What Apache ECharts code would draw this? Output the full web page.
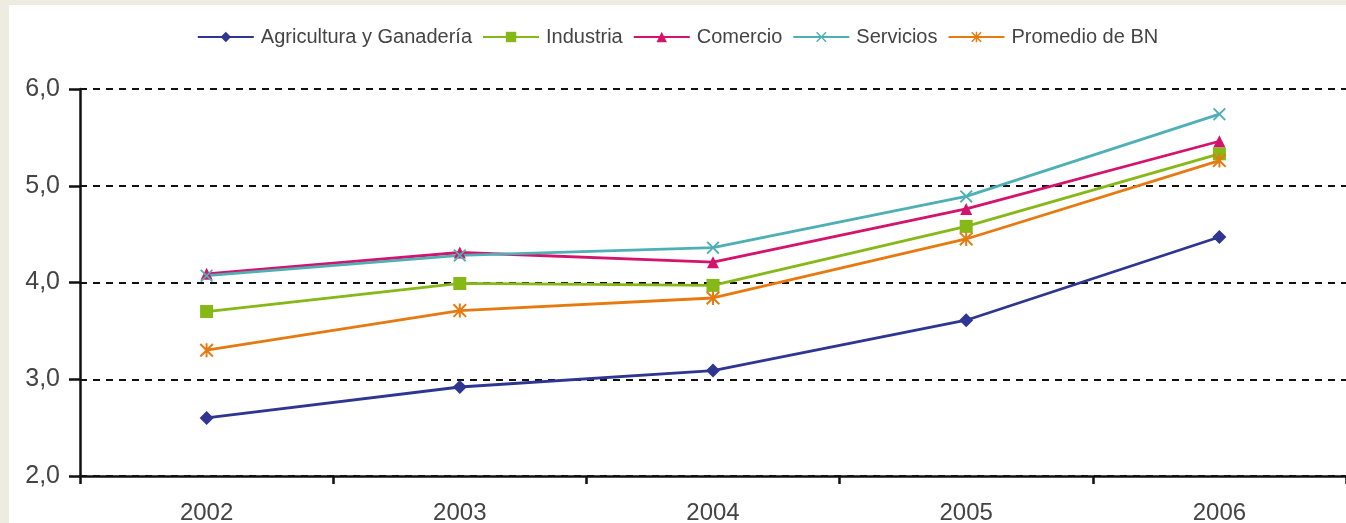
<!DOCTYPE html>
<html>
<head>
<meta charset="utf-8">
<script src="https://cdn.jsdelivr.net/npm/echarts@6/dist/echarts.min.js"></script>
<style>
  html, body { margin: 0; padding: 0; background: #eeebe0; width: 1346px; height: 523px; overflow: hidden; }
  #chart { position: absolute; left: 9px; top: 5px; width: 1337px; height: 518px; background: #ffffff; }
</style>
</head>
<body>
<div id="chart"></div>
<script>
const years = ['2002', '2003', '2004', '2005', '2006'];
const agricultura = [2.60, 2.92, 3.09, 3.61, 4.47];
const industria = [3.70, 3.99, 3.97, 4.58, 5.33];
const comercio = [4.09, 4.31, 4.21, 4.76, 5.46];
const servicios = [4.07, 4.28, 4.36, 4.89, 5.74];
const promedio = [3.30, 3.71, 3.84, 4.45, 5.26];
const seriesNames = ['Agricultura y Ganadería', 'Industria', 'Comercio', 'Servicios', 'Promedio de BN'];

const xSym = 'path://M0,1L1,0L5,4L9,0L10,1L6,5L10,9L9,10L5,6L1,10L0,9L4,5Z';
const starSym = 'path://M0,1L1,0L5,4L9,0L10,1L6,5L10,9L9,10L5,6L1,10L0,9L4,5Z M4.3,0L5.7,0L5.7,10L4.3,10Z';
const font = 'Liberation Sans, Arial, sans-serif';

function mk(name, data, color, symbol, size) {
  return {
    name: name, type: 'line', data: data, symbol: symbol, symbolSize: size,
    lineStyle: { color: color, width: 2.8 },
    itemStyle: { color: color },
    emphasis: { disabled: true },
    z: 3
  };
}

const chart = echarts.init(document.getElementById('chart'), null, { renderer: 'canvas' });
chart.setOption({
  animation: false,
  backgroundColor: '#ffffff',
  legend: {
    top: 17,
    left: 'center',
    itemWidth: 56,
    itemHeight: 13,
    itemGap: 10,
    textStyle: { fontFamily: font, fontSize: 20, color: '#444', padding: [0, 0, 0, 2] },
    data: seriesNames
  },
  grid: { left: 71, top: 84, right: 0, bottom: 47, outerBoundsMode: 'none', containLabel: false },
  xAxis: {
    type: 'category',
    data: years,
    boundaryGap: true,
    axisLine: { lineStyle: { color: '#111', width: 2.5 } },
    axisTick: { show: true, length: 8, lineStyle: { color: '#111', width: 2.5 } },
    axisLabel: { margin: 25, fontFamily: font, fontSize: 24, color: '#444' }
  },
  yAxis: {
    type: 'value',
    min: 2, max: 6, interval: 1,
    axisLine: { show: true, lineStyle: { color: '#111', width: 2.5 } },
    axisTick: { show: true, length: 11, lineStyle: { color: '#111', width: 2.5 } },
    axisLabel: {
      margin: 20,
      fontFamily: font, fontSize: 25, color: '#444',
      formatter: v => v.toFixed(1).replace('.', ',')
    },
    splitLine: { show: true, lineStyle: { color: '#111', width: 2, type: [7, 6] } }
  },
  series: [
    mk(seriesNames[0], agricultura, '#2e3592', 'diamond', 14),
    mk(seriesNames[1], industria, '#86b817', 'rect', 13),
    mk(seriesNames[2], comercio, '#d4136d', 'triangle', 12),
    mk(seriesNames[3], servicios, '#4eb0b5', xSym, 13),
    mk(seriesNames[4], promedio, '#e67a10', starSym, 14)
  ]
});
</script>
</body>
</html>
